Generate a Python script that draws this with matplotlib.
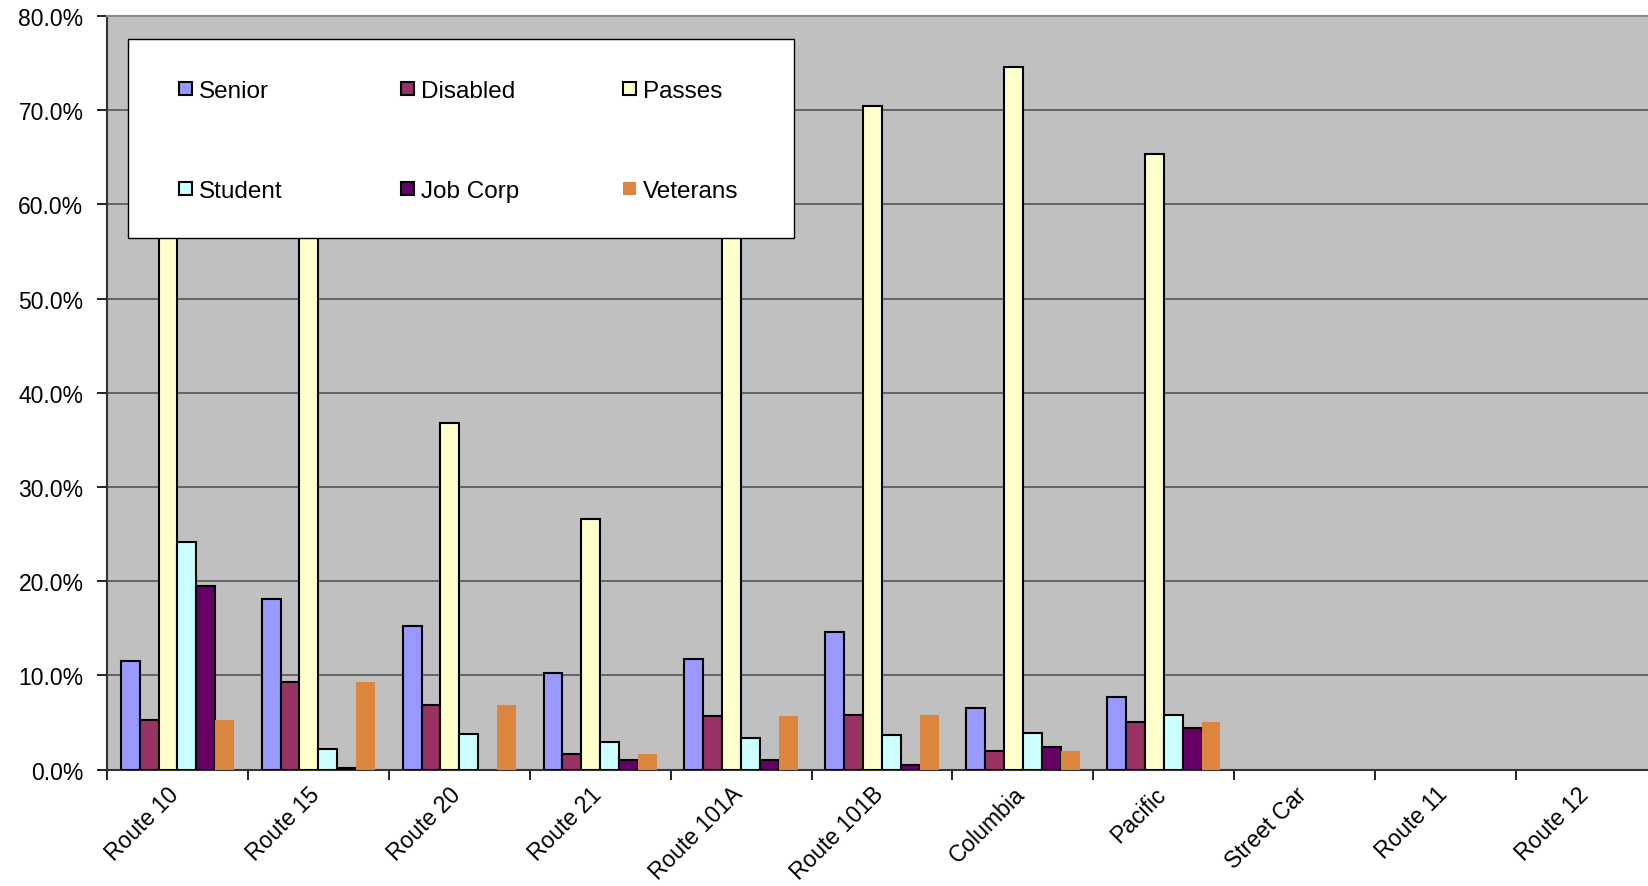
import matplotlib
matplotlib.use("Agg")
import matplotlib.pyplot as plt
import numpy as np
from matplotlib.patches import Rectangle
from matplotlib.ticker import PercentFormatter, FixedLocator
import matplotlib.transforms as mtransforms

plt.rcParams['font.family'] = ['Liberation Sans', 'DejaVu Sans']

routes = ["Route 10", "Route 15", "Route 20", "Route 21", "Route 101A",
          "Route 101B", "Columbia", "Pacific", "Street Car", "Route 11", "Route 12"]

senior   = [11.5, 18.1, 15.3, 10.3, 11.7, 14.6, 6.6, 7.7, 0, 0, 0]
disabled = [5.3, 9.3, 6.9, 1.7, 5.7, 5.8, 2.0, 5.1, 0, 0, 0]
passes   = [62.0, 66.0, 36.8, 26.6, 71.0, 70.4, 74.6, 65.3, 0, 0, 0]
student  = [24.2, 2.2, 3.8, 2.9, 3.4, 3.7, 3.9, 5.8, 0, 0, 0]
job_corp = [19.5, 0.2, 0.0, 1.0, 1.0, 0.5, 2.4, 4.4, 0, 0, 0]
veterans = [5.3, 9.3, 6.9, 1.7, 5.7, 5.8, 2.0, 5.1, 0, 0, 0]

series = [
    ("Senior", senior, "#9999FF", "black"),
    ("Disabled", disabled, "#993366", "black"),
    ("Passes", passes, "#FFFFCC", "black"),
    ("Student", student, "#CCFFFF", "black"),
    ("Job Corp", job_corp, "#660066", "black"),
    ("Veterans", veterans, "#DC853E", "none"),
]

W, H = 1649, 887
fig = plt.figure(figsize=(W / 100, H / 100), dpi=100)
ax = fig.add_axes([107 / W, (H - 770.7) / H, 1550 / W, (770.7 - 17) / H])
ax.set_facecolor("#C0C0C0")

n = len(routes)
x = np.arange(n)
bw = 0.134
offsets = (np.arange(len(series)) - (len(series) - 1) / 2) * bw

for (name, vals, color, ec), off in zip(series, offsets):
    vals = np.asarray(vals, dtype=float)
    mask = vals > 0
    ax.bar(x[mask] + off, vals[mask], width=bw, color=color,
           edgecolor=ec, linewidth=1.5 if ec != "none" else 0, zorder=3)

ax.set_xlim(-0.5, n - 0.5)
ax.set_ylim(0, 80)

# y axis
ax.yaxis.set_major_locator(FixedLocator(np.arange(0, 81, 10)))
ax.yaxis.set_major_formatter(PercentFormatter(decimals=1))
ax.tick_params(axis="y", direction="out", length=7, width=1.2, pad=10,
               labelsize=16.5, colors="black")
ax.grid(axis="y", color="#4D4D4D", linewidth=1.1, zorder=1)
ax.set_axisbelow(True)

# x axis: ticks at category boundaries, labels at centres
ax.set_xticks(np.arange(n + 1) - 0.5, minor=True)
ax.tick_params(axis="x", which="minor", direction="out", length=7, width=1.2)
ax.set_xticks(x)
ax.set_xticklabels(routes, rotation=45, ha="right", va="top",
                   rotation_mode="anchor", fontsize=16.5)
ax.tick_params(axis="x", which="major", length=0, pad=9)
shift = mtransforms.ScaledTranslation(-10 / 100, 0, fig.dpi_scale_trans)
for lbl in ax.get_xticklabels():
    lbl.set_transform(lbl.get_transform() + shift)

for side in ("left", "bottom"):
    ax.spines[side].set_color("#333333")
    ax.spines[side].set_linewidth(1.5)
ax.spines["top"].set_color("#8C8C8C")
ax.spines["top"].set_linewidth(1.5)
ax.spines["right"].set_visible(False)

# legend box: three columns, two rows
def fx(px):
    return px / W

def fy(py):
    return 1 - py / H

fig.add_artist(Rectangle((fx(128), fy(239)), fx(794) - fx(128), fy(40) - fy(239),
                         transform=fig.transFigure, facecolor="white",
                         edgecolor="black", linewidth=1.0, zorder=5))
col_x = [179, 401, 623]
row_y = [89.5, 189.5]
sq = 13
for i, (name, _, color, ec) in enumerate(series):
    r, c = divmod(i, 3)
    mx, my = col_x[c], row_y[r]
    fig.add_artist(Rectangle((fx(mx), fy(my + sq / 2)), fx(sq), fy(0) - fy(sq),
                             transform=fig.transFigure, facecolor=color,
                             edgecolor=ec, linewidth=1.5 if ec != "none" else 0,
                             zorder=6))
    fig.text(fx(mx + sq + 7), fy(my + 8.5), name, fontsize=17.5,
             ha="left", va="baseline", zorder=6)

fig.savefig("out.png", dpi=100, facecolor="white")
